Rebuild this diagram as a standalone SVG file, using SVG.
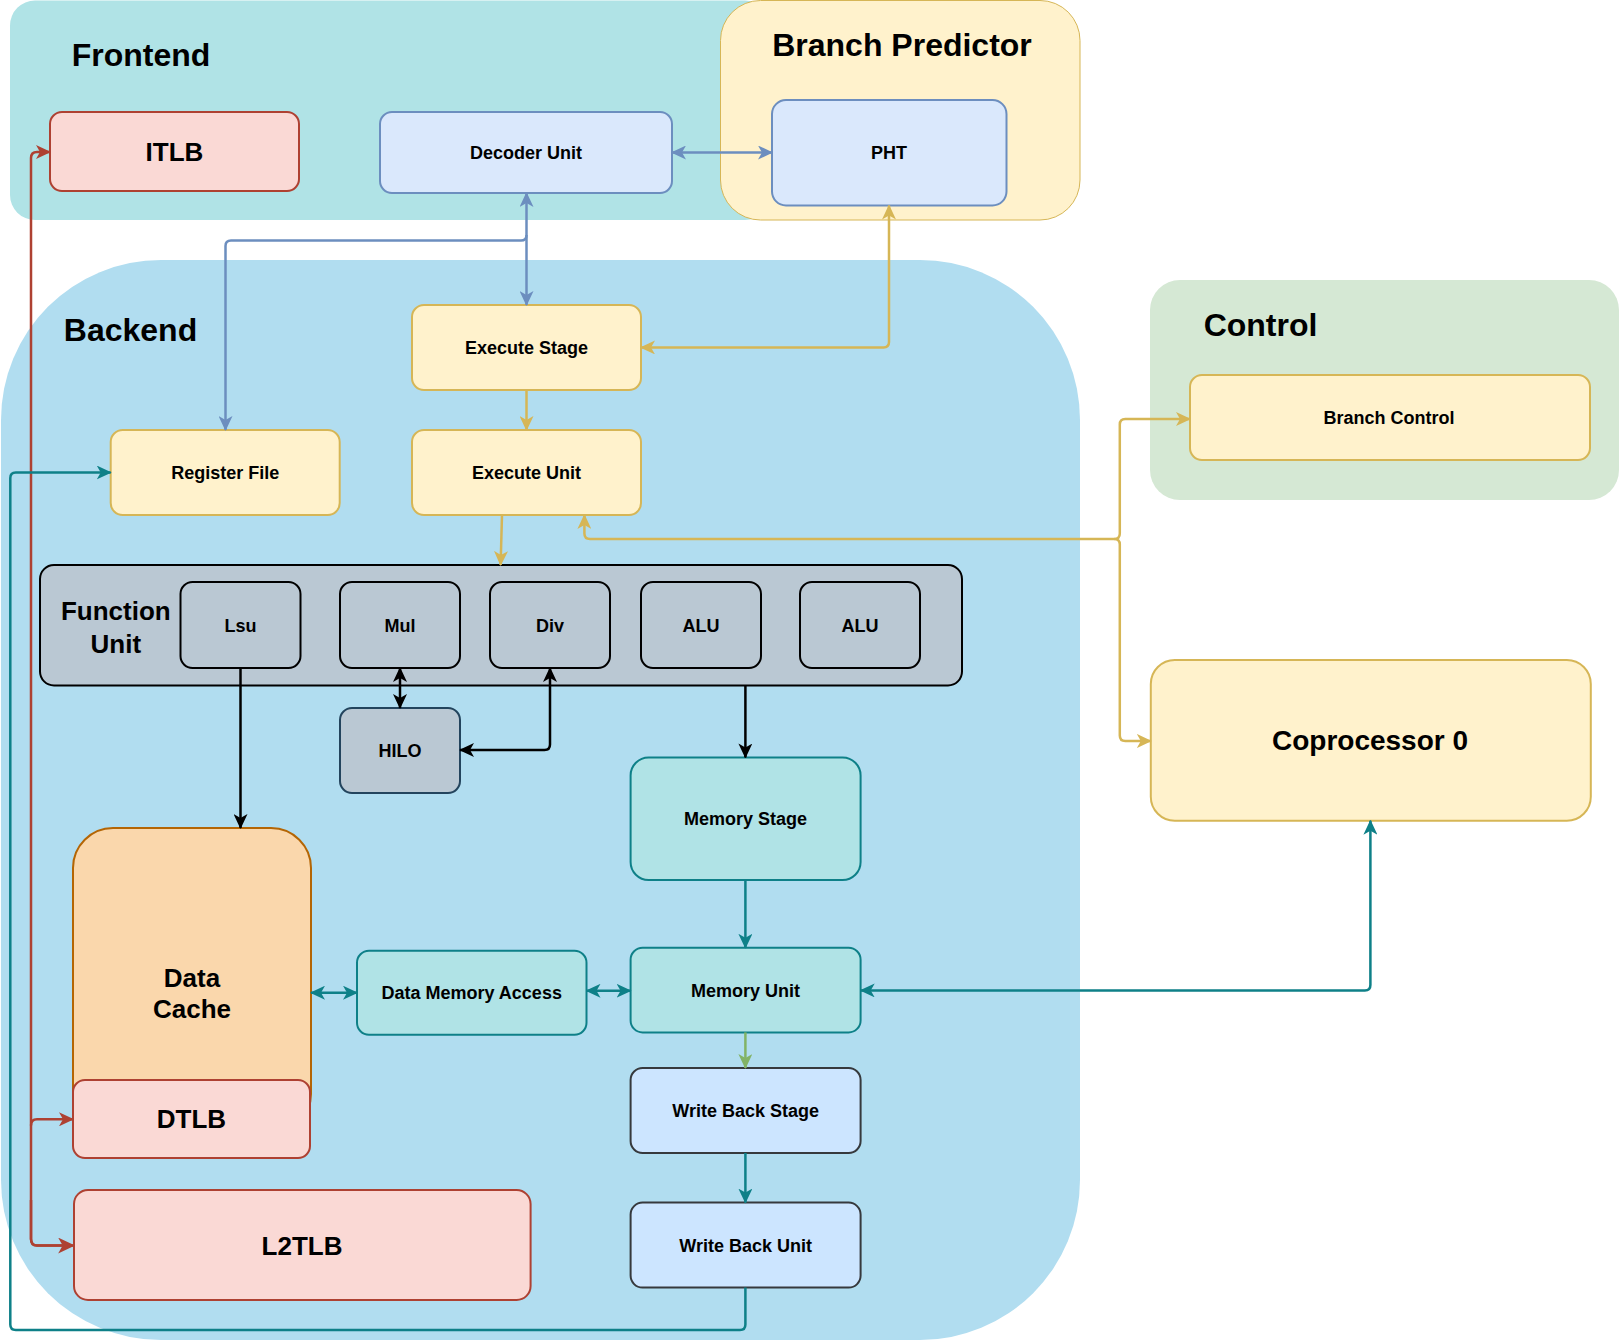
<svg xmlns="http://www.w3.org/2000/svg" width="1622" height="1341" viewBox="0 0 1622 1341">
<style>
text{font-family:"Liberation Sans",Arial,sans-serif;font-weight:bold;fill:#000;text-anchor:middle}
.t32{font-size:32px}
.t28{font-size:28px}
.t26{font-size:26px}
.t18{font-size:18px}
.c{fill:none;stroke-width:2.5;stroke-linejoin:round}
.red{fill:#fad9d5;stroke:#ae4132;stroke-width:2}
.blue{fill:#dae8fc;stroke:#6c8ebf;stroke-width:2}
.yel{fill:#fff2cc;stroke:#d6b656;stroke-width:2}
.gray{fill:#bac8d3;stroke:#000;stroke-width:2}
.teal{fill:#b0e3e6;stroke:#0e8088;stroke-width:2}
.wb{fill:#cce5ff;stroke:#36393d;stroke-width:2}
</style>
<defs>
<marker id="aB" viewBox="0 0 15 14" markerWidth="15" markerHeight="14" refX="14" refY="7" orient="auto-start-reverse" markerUnits="userSpaceOnUse"><path d="M0,0 L15,7 L0,14 L4,7 Z" fill="#6c8ebf"/></marker>
<marker id="aY" viewBox="0 0 15 14" markerWidth="15" markerHeight="14" refX="14" refY="7" orient="auto-start-reverse" markerUnits="userSpaceOnUse"><path d="M0,0 L15,7 L0,14 L4,7 Z" fill="#d6b656"/></marker>
<marker id="aK" viewBox="0 0 15 14" markerWidth="15" markerHeight="14" refX="14" refY="7" orient="auto-start-reverse" markerUnits="userSpaceOnUse"><path d="M0,0 L15,7 L0,14 L4,7 Z" fill="#000"/></marker>
<marker id="aT" viewBox="0 0 15 14" markerWidth="15" markerHeight="14" refX="14" refY="7" orient="auto-start-reverse" markerUnits="userSpaceOnUse"><path d="M0,0 L15,7 L0,14 L4,7 Z" fill="#0e8088"/></marker>
<marker id="aG" viewBox="0 0 15 14" markerWidth="15" markerHeight="14" refX="14" refY="7" orient="auto-start-reverse" markerUnits="userSpaceOnUse"><path d="M0,0 L15,7 L0,14 L4,7 Z" fill="#82b366"/></marker>
<marker id="aR" viewBox="0 0 15 14" markerWidth="15" markerHeight="14" refX="14" refY="7" orient="auto-start-reverse" markerUnits="userSpaceOnUse"><path d="M0,0 L15,7 L0,14 L4,7 Z" fill="#ae4132"/></marker>
<marker id="aR2" viewBox="0 0 15 14" markerWidth="17" markerHeight="16" refX="14" refY="7" orient="auto-start-reverse" markerUnits="userSpaceOnUse"><path d="M0,0 L15,7 L0,14 L4,7 Z" fill="#ae4132"/></marker>
</defs>
<rect width="1622" height="1341" fill="#fff"/>

<g id="frontend">
<rect x="10" y="0.5" width="760" height="219.5" rx="25" fill="#b0e3e6"/>
<text class="t32" x="141" y="66">Frontend</text>
</g>
<g id="branch-predictor">
<rect x="720.5" y="0.5" width="359.5" height="219.5" rx="40" fill="#fff2cc" stroke="#d6b656" stroke-width="1"/>
<text class="t32" x="902" y="55.5">Branch Predictor</text>
</g>
<g id="backend">
<rect x="1" y="260" width="1079" height="1080" rx="160" fill="#b1ddf0"/>
<text class="t32" x="130.5" y="340.5">Backend</text>
</g>
<g id="control">
<rect x="1150" y="280" width="469" height="220" rx="30" fill="#d5e8d4"/>
<text class="t32" x="1260.5" y="335.5">Control</text>
</g>

<g id="itlb"><rect class="red" x="50" y="112" width="249" height="79" rx="12"/><text class="t26" x="174.5" y="161">ITLB</text></g>
<g id="decoder-unit"><rect class="blue" x="380" y="112" width="292" height="81" rx="12"/><text class="t18" x="526" y="159">Decoder Unit</text></g>
<g id="pht"><rect class="blue" x="772" y="100" width="234.5" height="105.5" rx="14"/><text class="t18" x="889" y="159">PHT</text></g>

<g id="execute-stage"><rect class="yel" x="412" y="305" width="229" height="85" rx="12"/><text class="t18" x="526.5" y="354">Execute Stage</text></g>
<g id="register-file"><rect class="yel" x="110.7" y="430" width="229" height="85" rx="12"/><text class="t18" x="225.2" y="479">Register File</text></g>
<g id="execute-unit"><rect class="yel" x="412" y="430" width="229" height="85" rx="12"/><text class="t18" x="526.5" y="479">Execute Unit</text></g>

<g id="function-unit">
<rect class="gray" x="40" y="565" width="922" height="120.5" rx="14"/>
<text class="t26" x="115.8" y="620">Function</text>
<text class="t26" x="115.8" y="653">Unit</text>
</g>
<g id="lsu"><rect class="gray" x="180.5" y="582" width="120" height="86" rx="12"/><text class="t18" x="240.5" y="631.5">Lsu</text></g>
<g id="mul"><rect class="gray" x="340" y="582" width="120" height="86" rx="12"/><text class="t18" x="400" y="631.5">Mul</text></g>
<g id="div"><rect class="gray" x="490" y="582" width="120" height="86" rx="12"/><text class="t18" x="550" y="631.5">Div</text></g>
<g id="alu1"><rect class="gray" x="641" y="582" width="120" height="86" rx="12"/><text class="t18" x="701" y="631.5">ALU</text></g>
<g id="alu2"><rect class="gray" x="800" y="582" width="120" height="86" rx="12"/><text class="t18" x="860" y="631.5">ALU</text></g>
<g id="hilo"><rect x="340" y="708" width="120" height="85" rx="12" fill="#bac8d3" stroke="#23445d" stroke-width="2"/><text class="t18" x="400" y="757">HILO</text></g>

<g id="memory-stage"><rect class="teal" x="630.6" y="757.4" width="230" height="122.6" rx="18"/><text class="t18" x="745.6" y="825">Memory Stage</text></g>
<g id="memory-unit"><rect class="teal" x="630.6" y="947.8" width="230" height="84.6" rx="12"/><text class="t18" x="745.6" y="996.5">Memory Unit</text></g>
<g id="data-memory-access"><rect class="teal" x="357" y="950.7" width="229.5" height="84" rx="12"/><text class="t18" x="471.7" y="999">Data Memory Access</text></g>
<g id="write-back-stage"><rect class="wb" x="630.6" y="1068" width="230" height="85" rx="12"/><text class="t18" x="745.6" y="1117">Write Back Stage</text></g>
<g id="write-back-unit"><rect class="wb" x="630.6" y="1202.6" width="230" height="85" rx="12"/><text class="t18" x="745.6" y="1251.5">Write Back Unit</text></g>

<g id="data-cache"><rect x="73" y="828" width="238" height="306" rx="40" fill="#fad7ac" stroke="#b46504" stroke-width="2"/><text class="t26" x="192" y="986.5">Data</text><text class="t26" x="192" y="1018">Cache</text></g>
<g id="dtlb"><rect class="red" x="73" y="1080" width="237" height="78" rx="12"/><text class="t26" x="191.5" y="1128">DTLB</text></g>
<g id="l2tlb"><rect class="red" x="74" y="1190" width="456.6" height="110" rx="14"/><text class="t26" x="302" y="1254.5">L2TLB</text></g>

<g id="branch-control"><rect class="yel" x="1190" y="375" width="400" height="85" rx="12"/><text class="t18" x="1389" y="424">Branch Control</text></g>
<g id="coprocessor0"><rect class="yel" x="1150.8" y="660" width="440" height="160.7" rx="24"/><text class="t28" x="1370" y="750">Coprocessor 0</text></g>

<g id="connectors">
<path class="c" stroke="#ae4132" stroke-width="3" d="M50,152 L37,152 Q31,152 31,158 L31,1239 Q31,1245.5 37,1245.5 L74,1245.5" marker-start="url(#aR)" marker-end="url(#aR2)"/>
<path class="c" stroke="#ae4132" stroke-width="3.5" d="M31,1200 L31,1239 Q31,1245.5 37,1245.5 L62,1245.5"/>
<path class="c" stroke="#ae4132" d="M31,1125.5 Q31,1119.3 37,1119.3 L73,1119.3" marker-end="url(#aR)"/>

<path class="c" stroke="#6c8ebf" d="M672,152.5 L772,152.5" marker-start="url(#aB)" marker-end="url(#aB)"/>
<path class="c" stroke="#6c8ebf" d="M526.5,193 L526.5,305" marker-start="url(#aB)" marker-end="url(#aB)"/>
<path class="c" stroke="#6c8ebf" d="M526.5,235 Q526.5,240.6 521,240.6 L231,240.6 Q225.5,240.6 225.5,246 L225.5,430" marker-end="url(#aB)"/>

<path class="c" stroke="#d6b656" d="M526.5,390 L526.5,430" marker-end="url(#aY)"/>
<path class="c" stroke="#d6b656" d="M502,515 L500.6,565" marker-end="url(#aY)"/>
<path class="c" stroke="#d6b656" d="M889,205.5 L889,342 Q889,347.4 883.5,347.4 L641,347.4" marker-start="url(#aY)" marker-end="url(#aY)"/>
<path class="c" stroke="#d6b656" d="M584.4,515 L584.4,533.5 Q584.4,539 590,539 L1114.3,539 Q1119.8,539 1119.8,533.5 L1119.8,424.5 Q1119.8,419 1125.3,419 L1190,419" marker-start="url(#aY)" marker-end="url(#aY)"/>
<path class="c" stroke="#d6b656" d="M1114.3,539 Q1119.8,539 1119.8,544.5 L1119.8,735.5 Q1119.8,741 1125.3,741 L1150.8,741" marker-end="url(#aY)"/>

<path class="c" stroke="#000" d="M240.5,668 L240.5,828" marker-end="url(#aK)"/>
<path class="c" stroke="#000" stroke-width="2" d="M400,668 L400,708" marker-start="url(#aK)" marker-end="url(#aK)"/>
<path class="c" stroke="#000" stroke-width="2" d="M550,668 L550,744.5 Q550,750 544.5,750 L460,750" marker-start="url(#aK)" marker-end="url(#aK)"/>
<path class="c" stroke="#000" d="M745.4,685.5 L745.4,757.4" marker-end="url(#aK)"/>

<path class="c" stroke="#0e8088" d="M745.4,880 L745.4,947.8" marker-end="url(#aT)"/>
<path class="c" stroke="#82b366" d="M745.4,1032.4 L745.4,1068" marker-end="url(#aG)"/>
<path class="c" stroke="#0e8088" d="M745.4,1153 L745.4,1202.6" marker-end="url(#aT)"/>
<path class="c" stroke="#0e8088" d="M745.4,1287.6 L745.4,1324.5 Q745.4,1330 740,1330 L15.8,1330 Q10.3,1330 10.3,1324.5 L10.3,478 Q10.3,472.5 15.8,472.5 L110.7,472.5" marker-end="url(#aT)"/>
<path class="c" stroke="#0e8088" d="M311,992.7 L357,992.7" marker-start="url(#aT)" marker-end="url(#aT)"/>
<path class="c" stroke="#0e8088" d="M586.5,990.8 L630.6,990.8" marker-start="url(#aT)" marker-end="url(#aT)"/>
<path class="c" stroke="#0e8088" d="M860.7,990.4 L1364.9,990.4 Q1370.4,990.4 1370.4,984.9 L1370.4,820.7" marker-start="url(#aT)" marker-end="url(#aT)"/>
</g>
</svg>
